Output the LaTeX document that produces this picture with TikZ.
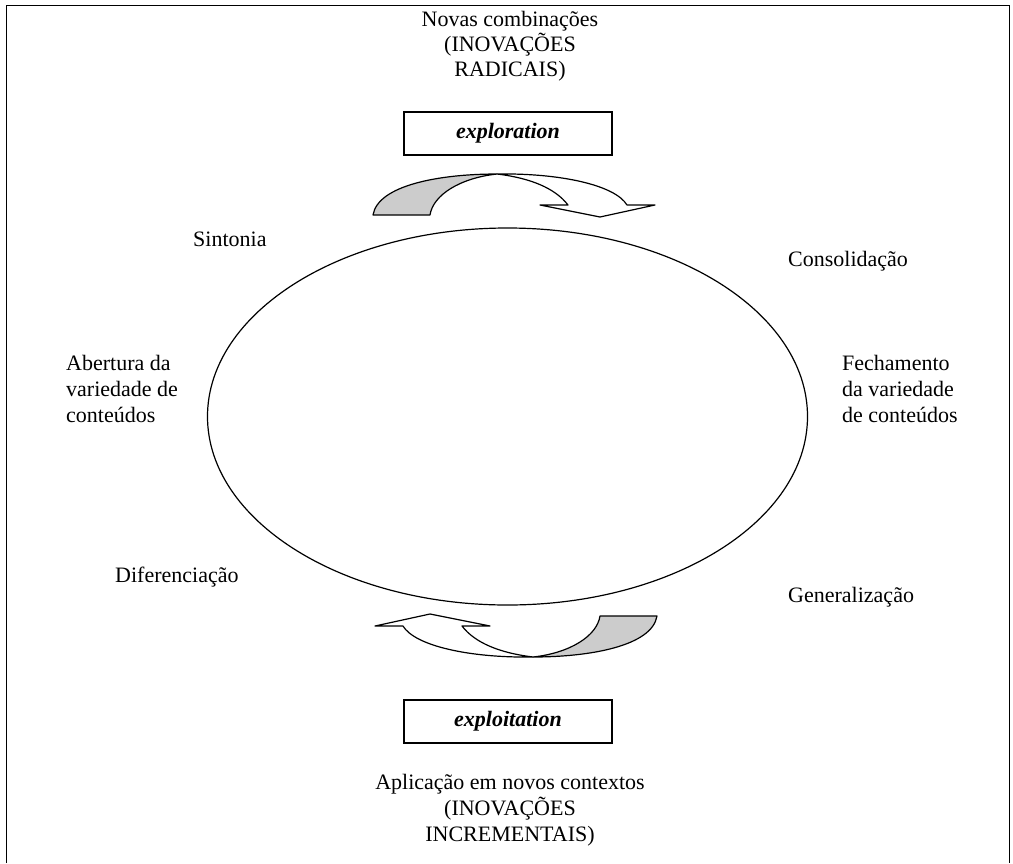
\documentclass[tikz,border=0pt]{standalone}
\usepackage{fontspec}
\setmainfont{Liberation Serif}
\usetikzlibrary{shapes.geometric}

% curved band arrow (gray back, white front with head)
\newcommand{\setacurva}{%
  \filldraw[faixa,fill=black!20] (373,215) .. controls (378,185) and (440,174) .. (497,174)
    .. controls (460,178) and (433,195) .. (430,215) -- cycle;
  \filldraw[faixa,fill=white] (497,174) .. controls (560,173) and (615,185) .. (627,205)
    -- (655,205) -- (600,217) -- (540,205) -- (568,205)
    .. controls (555,188) and (530,178) .. (497,174) -- cycle;
}

\begin{document}
\begin{tikzpicture}[
            x=1pt,y=-1pt,
            lbl/.style={inner sep=0pt,font=\fontsize{22}{26}\selectfont},
            caixa/.style={draw,line width=1.2pt,minimum width=208,minimum height=43,
              inner sep=0pt,font=\fontsize{22}{26}\selectfont\bfseries\itshape},
            faixa/.style={draw=black,line width=1.2pt,line join=round}
        ]
        \useasboundingbox (0,0) rectangle (1013,863);
        \draw[line width=1pt] (6,863) -- (6,5) -- (1009,5) -- (1009,863);

        \node[lbl,align=center,anchor=north,font=\fontsize{22}{25}\selectfont] (novas) at (510,11) {Novas combinações\\(INOVAÇÕES\\RADICAIS)};
        \node[caixa] (explor) at (508,133.5) {exploration};
        \setacurva

        \node[draw,ellipse,line width=1.2pt,minimum width=600,minimum height=377,inner sep=0pt] (ciclo) at (507.5,416.5) {};

        \node[lbl,anchor=base west] (sinto) at (193,246) {Sintonia};
        \node[lbl,anchor=base west] (conso) at (788,266) {Consolidação};
        \node[lbl,align=left,anchor=north west] (abert) at (66,355) {Abertura da\\variedade de\\conteúdos};
        \node[lbl,align=left,anchor=north west] (fecha) at (842,355) {Fechamento\\da variedade\\de conteúdos};
        \node[lbl,anchor=base west] (difer) at (115,582) {Diferenciação};
        \node[lbl,anchor=base west] (gener) at (788,602) {Generalização};

        \begin{scope}[rotate around={180:(515,415.5)}]
            \setacurva
        \end{scope}
        \node[caixa] (explot) at (508,721.5) {exploitation};
        \node[lbl,align=center,anchor=north] (aplic) at (510,774) {Aplicação em novos contextos\\(INOVAÇÕES\\INCREMENTAIS)};
\end{tikzpicture}
\end{document}
